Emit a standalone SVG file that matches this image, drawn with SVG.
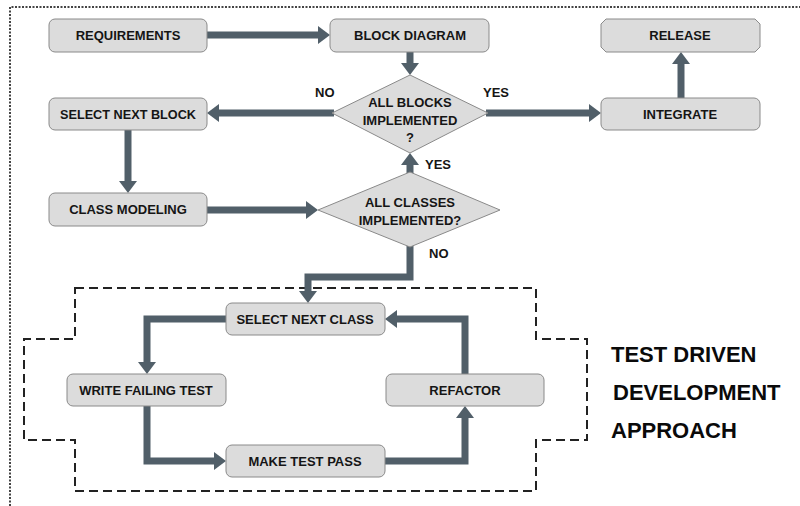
<svg xmlns="http://www.w3.org/2000/svg" width="800" height="506" viewBox="0 0 800 506">
<style>
.box{fill:#dcdcdc;stroke:#8a8a8a;stroke-width:1}
.t{font-family:"Liberation Sans",Arial,sans-serif;font-weight:bold;font-size:13px;fill:#151515;text-anchor:middle}
.lbl{font-family:"Liberation Sans",Arial,sans-serif;font-weight:bold;font-size:13px;fill:#151515}
.big{font-family:"Liberation Sans",Arial,sans-serif;font-weight:bold;font-size:22px;fill:#0a0a0a}
.c{fill:none;stroke:#515f69;stroke-width:7;stroke-linejoin:miter;marker-end:url(#ah)}
</style>
<defs>
<marker id="ah" markerUnits="userSpaceOnUse" markerWidth="12" markerHeight="18" viewBox="0 0 12 18" refX="0" refY="9" orient="auto">
<path d="M0,0 L12,9 L0,18 Z" fill="#515f69"/>
</marker>
</defs>
<rect width="800" height="506" fill="#ffffff"/>
<path d="M10,506 V7 H800" fill="none" stroke="#444" stroke-width="2" stroke-dasharray="2 1.5"/>
<polygon points="75,288 536,288 536,339 587,339 587,440 536,440 536,491 75,491 75,440 24,440 24,339 75,339" fill="none" stroke="#222" stroke-width="2" stroke-dasharray="9 5"/>

<g id="connectors">
<path class="c" d="M207,35 H318"/>
<path class="c" d="M410,52 V63"/>
<path class="c" d="M334,113 H219"/>
<path class="c" d="M486,113 H589"/>
<path class="c" d="M681,98 V64"/>
<path class="c" d="M128,130 V181"/>
<path class="c" d="M207,210 H306"/>
<path class="c" d="M410,173 V165"/>
<path class="c" d="M410,246 V277 H308 V291"/>
<path class="c" d="M226,319 H147 V362"/>
<path class="c" d="M147,406 V461 H214"/>
<path class="c" d="M385,461 H465 V418"/>
<path class="c" d="M465,374 V319 H397"/>
</g>

<g id="requirements">
<rect class="box" x="49" y="19" width="158" height="33" rx="6"/>
<text class="t" x="128" y="40">REQUIREMENTS</text>
</g>
<g id="block-diagram">
<rect class="box" x="330" y="19" width="159" height="33" rx="6"/>
<text class="t" x="410" y="40">BLOCK DIAGRAM</text>
</g>
<g id="release">
<polygon class="box" points="606,19 755,19 760,24 760,47 755,52 606,52 601,47 601,24"/>
<text class="t" x="680" y="40">RELEASE</text>
</g>
<g id="all-blocks">
<polygon class="box" points="410,75 488,113 410,153 332,113"/>
<text class="t" x="410" y="107">ALL BLOCKS</text>
<text class="t" x="410" y="125">IMPLEMENTED</text>
<text class="t" x="410" y="142">?</text>
</g>
<g id="select-next-block">
<rect class="box" x="49" y="98" width="158" height="32" rx="6"/>
<text class="t" x="128" y="119" textLength="136" lengthAdjust="spacingAndGlyphs">SELECT NEXT BLOCK</text>
</g>
<g id="integrate">
<rect class="box" x="601" y="98" width="159" height="32" rx="6"/>
<text class="t" x="680" y="119">INTEGRATE</text>
</g>
<g id="class-modeling">
<rect class="box" x="49" y="193" width="158" height="33" rx="6"/>
<text class="t" x="128" y="214">CLASS MODELING</text>
</g>
<g id="all-classes">
<polygon class="box" points="410,172 500,210 410,247 318,210"/>
<text class="t" x="410" y="207">ALL CLASSES</text>
<text class="t" x="410" y="225">IMPLEMENTED?</text>
</g>
<g id="select-next-class">
<rect class="box" x="226" y="303" width="159" height="32" rx="6"/>
<text class="t" x="305" y="324">SELECT NEXT CLASS</text>
</g>
<g id="write-failing-test">
<rect class="box" x="67" y="374" width="159" height="32" rx="6"/>
<text class="t" x="146" y="395">WRITE FAILING TEST</text>
</g>
<g id="make-test-pass">
<rect class="box" x="226" y="445" width="159" height="32" rx="6"/>
<text class="t" x="305" y="466">MAKE TEST PASS</text>
</g>
<g id="refactor">
<rect class="box" x="386" y="374" width="158" height="32" rx="6"/>
<text class="t" x="465" y="395">REFACTOR</text>
</g>

<g id="labels">
<text class="lbl" x="315" y="97">NO</text>
<text class="lbl" x="483" y="97">YES</text>
<text class="lbl" x="425" y="169">YES</text>
<text class="lbl" x="429" y="258">NO</text>
<text class="big" x="611" y="362">TEST DRIVEN</text>
<text class="big" x="613" y="400">DEVELOPMENT</text>
<text class="big" x="611" y="438">APPROACH</text>
</g>
</svg>
